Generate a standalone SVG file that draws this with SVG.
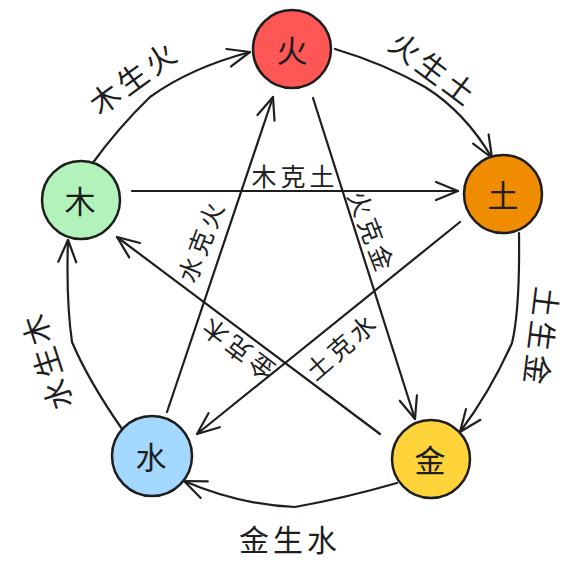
<svg xmlns="http://www.w3.org/2000/svg" width="580" height="574" viewBox="0 0 580 574">
<defs>
<style>
.node{stroke:#1e1e1e;stroke-width:2.5}
.nlabel{font-family:"Noto Sans CJK SC","Noto Sans",sans-serif;font-size:31px;fill:#1e1e1e;text-anchor:middle;dominant-baseline:central}
.edge{fill:none;stroke:#1e1e1e;stroke-width:2.2;stroke-linecap:round;stroke-linejoin:round;marker-end:url(#ah)}
.sheng{font-family:"Noto Sans CJK SC","Noto Sans",sans-serif;font-size:30px;letter-spacing:4px;fill:#1e1e1e;text-anchor:middle;dominant-baseline:central}
.ke{font-family:"Noto Sans CJK SC","Noto Sans",sans-serif;font-size:25px;letter-spacing:4px;fill:#1e1e1e;text-anchor:middle;dominant-baseline:central}
</style>
<marker id="ah" markerUnits="userSpaceOnUse" orient="auto" refX="0" refY="0" markerWidth="30" markerHeight="24" viewBox="-26 -12 30 24" overflow="visible">
<path d="M -22 -9 L 0 0 L -22 9" fill="none" stroke="#1e1e1e" stroke-width="2.2" stroke-linecap="round" stroke-linejoin="round"/>
</marker>
</defs>
<rect width="580" height="574" fill="#ffffff"/>
<g id="connectors">
<path class="edge" d="M 92 164 Q 118 128 150 97 Q 190 68 250 52"/>
<path class="edge" d="M 335 49 Q 385 64 425 87 Q 465 112 492 158"/>
<path class="edge" d="M 519 233 Q 520 310 512 343 Q 490 392 460 432"/>
<path class="edge" d="M 397 483 Q 345 498 295 507 Q 240 505 184 481"/>
<path class="edge" d="M 122 429 Q 88 380 72 342 Q 66 300 68 240"/>
<path class="edge" d="M 132 191 L 458 191"/>
<path class="edge" d="M 313 98 L 415 419"/>
<path class="edge" d="M 460 222 L 197 434"/>
<path class="edge" d="M 380 434 L 117 237"/>
<path class="edge" d="M 167 412 L 273 97"/>
</g>
<g id="labels">
<text class="sheng" transform="translate(133,76) rotate(-36)">木生火</text>
<text class="sheng" transform="translate(435,68) rotate(37)">火生土</text>
<text class="sheng" transform="translate(543,338) rotate(97)">土生金</text>
<text class="sheng" transform="translate(290,538)">金生水</text>
<text class="sheng" transform="translate(45,361) rotate(-108)">水生木</text>
<text class="ke" transform="translate(295,175)">木克土</text>
<text class="ke" transform="translate(373,232) rotate(69)">火克金</text>
<text class="ke" transform="translate(341,345) rotate(-41)">土克水</text>
<text class="ke" transform="translate(236,349) rotate(217)">金克木</text>
<text class="ke" transform="translate(200,240) rotate(-69)">水克火</text>
</g>
<g id="node-fire">
<circle class="node" cx="292" cy="49" r="39" fill="#ff5656"/>
<text class="nlabel" x="292" y="48">火</text>
</g>
<g id="node-earth">
<circle class="node" cx="503" cy="194" r="39" fill="#f08c00"/>
<text class="nlabel" x="503" y="193">土</text>
</g>
<g id="node-wood">
<circle class="node" cx="81" cy="200" r="39" fill="#b2f2bb"/>
<text class="nlabel" x="80" y="199">木</text>
</g>
<g id="node-water">
<circle class="node" cx="152" cy="456" r="40" fill="#a5d8ff"/>
<text class="nlabel" x="151" y="455">水</text>
</g>
<g id="node-metal">
<circle class="node" cx="431" cy="459" r="39" fill="#ffd43b"/>
<text class="nlabel" x="430" y="458">金</text>
</g>
</svg>
